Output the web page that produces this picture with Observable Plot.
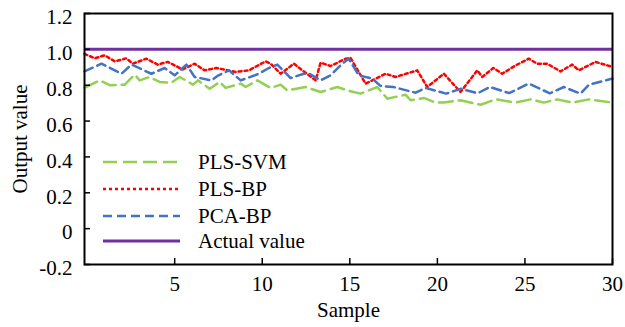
<!DOCTYPE html>
<html><head><meta charset="utf-8">
<script src="https://cdn.jsdelivr.net/npm/d3@7"></script>
<script src="https://cdn.jsdelivr.net/npm/@observablehq/plot@0.6"></script>
<style>
body{margin:0;background:#fff;font-family:Tinos,'Liberation Serif',serif;}
#wrap{position:relative;width:625px;height:327px;}
.row{position:absolute;left:100px;height:26px;display:flex;align-items:center;font-size:21px;color:#000;white-space:nowrap;}
.row svg{margin-right:18px;}
</style></head><body><div id="wrap"></div>
<script>
// Sample (x) and output value (y) pairs
const plsSvm = [[-0.15,0.785],[0.72,0.827],[1.29,0.8],[2.15,0.803],[2.72,0.859],[3.0,0.827],[3.57,0.846],[4.14,0.818],[4.81,0.814],[5.29,0.846],[6.05,0.803],[6.33,0.827],[7.0,0.78],[7.57,0.818],[7.91,0.785],[8.77,0.809],[9.05,0.79],[9.72,0.827],[10.48,0.785],[11.05,0.803],[11.43,0.771],[12.48,0.79],[13.33,0.762],[14.28,0.79],[15.04,0.766],[15.61,0.753],[16.57,0.79],[17.14,0.725],[18.18,0.747],[18.47,0.716],[19.23,0.729],[19.9,0.703],[20.37,0.703],[21.32,0.716],[22.47,0.691],[23.34,0.721],[24.46,0.703],[25.33,0.721],[26.08,0.703],[26.84,0.721],[27.7,0.703],[28.65,0.721],[30,0.703]];
const plsBp = [[-0.15,0.975],[0.43,0.95],[1.0,0.967],[1.58,0.933],[2.24,0.95],[2.6,0.92],[3.38,0.948],[4.03,0.915],[4.6,0.93],[5.46,0.888],[6.14,0.92],[6.7,0.883],[7.4,0.896],[8.48,0.874],[9.24,0.883],[10.19,0.933],[10.48,0.92],[11.05,0.864],[11.81,0.92],[12.29,0.883],[13.05,0.827],[13.33,0.926],[13.9,0.907],[14.76,0.948],[15.04,0.952],[15.9,0.809],[16.47,0.836],[17.04,0.864],[17.61,0.846],[18.85,0.883],[19.42,0.79],[20.37,0.864],[21.32,0.762],[22.28,0.883],[22.56,0.846],[23.2,0.896],[23.7,0.864],[24.46,0.91],[25.22,0.948],[25.7,0.92],[26.27,0.92],[27.03,0.877],[27.7,0.915],[28.08,0.883],[29.03,0.93],[30,0.902]];
const pcaBp = [[-0.15,0.877],[0.82,0.92],[1.96,0.864],[2.53,0.915],[3.67,0.864],[4.43,0.896],[5.0,0.855],[5.67,0.915],[6.14,0.846],[7.1,0.827],[7.5,0.855],[8.1,0.883],[8.77,0.827],[9.81,0.864],[10.38,0.896],[10.86,0.915],[11.62,0.84],[12.38,0.864],[12.7,0.864],[13.33,0.827],[13.9,0.855],[14.57,0.92],[14.93,0.948],[15.52,0.855],[16.28,0.837],[16.75,0.796],[17.5,0.79],[18.76,0.758],[19.33,0.785],[20.5,0.753],[21.35,0.78],[22.3,0.755],[23.0,0.79],[24.1,0.756],[25.22,0.809],[26.42,0.755],[27.22,0.79],[28.17,0.753],[28.65,0.803],[30,0.837]];
const actualValue = 1.0;
const xTicks = [5, 10, 15, 20, 25, 30];
const yTicks = [-0.2, 0, 0.2, 0.4, 0.6, 0.8, 1.0, 1.2];
const seriesNames = ["PLS-SVM", "PLS-BP", "PCA-BP", "Actual value"];

const colors = {"PLS-SVM":"#92D050","PLS-BP":"#FF0000","PCA-BP":"#4472C4","Actual value":"#7030A0"};
const dashes = {"PLS-SVM":"14,6","PLS-BP":"3,3","PCA-BP":"9,5","Actual value":null};
const widths = {"PLS-SVM":2.5,"PLS-BP":2.5,"PCA-BP":2.5,"Actual value":3};

const lineOpts = name => ({x: d => d[0], y: d => d[1], stroke: colors[name], strokeWidth: widths[name], strokeDasharray: dashes[name], curve: "linear"});

const chart = Plot.plot({
  width: 625, height: 327,
  marginLeft: 84, marginRight: 13, marginTop: 13, marginBottom: 63,
  style: {fontFamily: "Tinos", fontSize: "21px", color: "black", background: "white", overflow: "visible"},
  x: {domain: [-0.15, 30]},
  y: {domain: [-0.2, 1.2]},
  marks: [
    Plot.ruleY([actualValue], {stroke: colors["Actual value"], strokeWidth: widths["Actual value"]}),
    Plot.line(plsSvm, lineOpts("PLS-SVM")),
    Plot.line(plsBp, lineOpts("PLS-BP")),
    Plot.line(pcaBp, lineOpts("PCA-BP")),
    Plot.frame({stroke: "black", strokeWidth: 2}),
    Plot.axisX(xTicks, {tickSize: 6, dy: -6, fill: "none", stroke: "black", strokeWidth: 1.5, label: null}),
    Plot.axisX(xTicks, {tickSize: 0, tickPadding: 12, stroke: "none", fill: "black", fontSize: 21, label: null, tickFormat: d => String(d)}),
    Plot.axisY(yTicks, {tickSize: 6, dx: 6, fill: "none", stroke: "black", strokeWidth: 1.5, label: null}),
    Plot.axisY(yTicks, {tickSize: 0, tickPadding: 12, dy: 4, stroke: "none", fill: "black", fontSize: 21, label: null, tickFormat: d => d === 0 ? "0" : d.toFixed(1)}),
    Plot.text(["Sample"], {text: d => d, frameAnchor: "bottom", dy: 46, lineAnchor: "middle", fontSize: 21, fill: "black"}),
    Plot.text(["Output value"], {text: d => d, frameAnchor: "left", dx: -64, rotate: -90, lineAnchor: "middle", textAnchor: "middle", fontSize: 21, fill: "black"})
  ]
});

const wrap = document.getElementById("wrap");
wrap.appendChild(chart);

const legendTops = [149, 176, 203, 228];
seriesNames.forEach((name, i) => {
  const row = document.createElement("div");
  row.className = "row";
  row.style.top = legendTops[i] + "px";
  const svg = d3.create("svg").attr("width", 80).attr("height", 26);
  svg.append("line").attr("x1", 3).attr("x2", 80).attr("y1", 13).attr("y2", 13)
    .attr("stroke", colors[name]).attr("stroke-width", widths[name])
    .attr("stroke-dasharray", dashes[name]);
  row.appendChild(svg.node());
  const span = document.createElement("span");
  span.textContent = name;
  row.appendChild(span);
  wrap.appendChild(row);
});
</script></body></html>
